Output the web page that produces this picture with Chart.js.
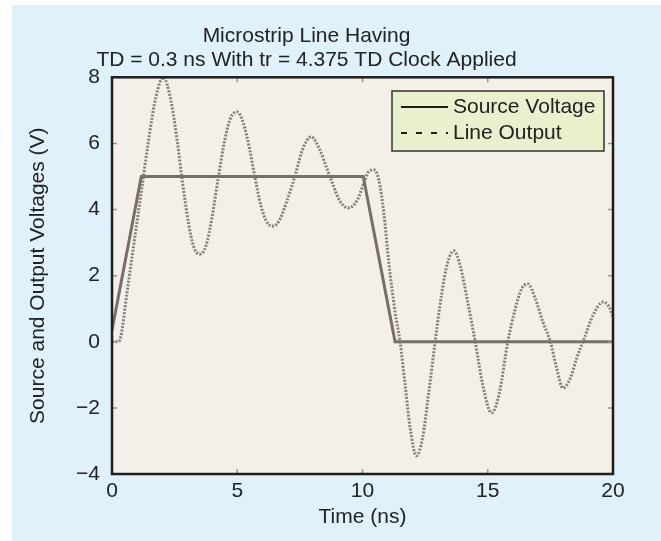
<!DOCTYPE html>
<html><head><meta charset="utf-8">
<script src="https://cdn.jsdelivr.net/npm/chart.js@4/dist/chart.umd.min.js"></script>
<style>html,body{margin:0;padding:0;background:#fff}#wrap{width:661px;height:541px}</style>
</head><body><div id="wrap"><canvas id="c" width="661" height="541"></canvas></div>
<script>
// ---- data ----
const titleLines = ['Microstrip Line Having', 'TD = 0.3 ns With tr = 4.375 TD Clock Applied'];
const xTitle = 'Time (ns)';
const yTitle = 'Source and Output Voltages (V)';
const seriesNames = ['Source Voltage', 'Line Output'];
const xTicks = [0, 5, 10, 15, 20];
const yTicks = [-4, -2, 0, 2, 4, 6, 8];

const sourceTime = [0, 1.17, 10.03, 11.3, 20];
const sourceVolt = [0.35, 5, 5, 0, 0];

const outputTime = [0, 0.25, 0.35, 0.6, 0.9, 1.2, 1.5, 1.75, 2.05, 2.35, 2.6, 2.8, 3.05, 3.25, 3.5, 3.75, 4.0, 4.25, 4.5, 4.75, 5.0,
  5.25, 5.5, 5.7, 5.95, 6.2, 6.45, 6.7, 7.0, 7.3, 7.6, 7.95, 8.3, 8.55, 8.8, 9.1, 9.45, 9.8, 10.1, 10.25, 10.45,
  10.65, 10.85, 11.05, 11.3, 11.5, 11.7, 11.9, 12.15, 12.4, 12.65, 12.9, 13.15, 13.4, 13.65, 13.9, 14.2, 14.5,
  14.8, 15.15, 15.45, 15.8, 16.1, 16.35, 16.6, 16.9, 17.2, 17.5, 17.75, 18.0, 18.3, 18.55, 18.85, 19.2, 19.6, 19.85, 20];
const outputVolt = [0, 0, 0.15, 1.5, 3.1, 4.7, 6.3, 7.4, 8.0, 7.3, 6.1, 4.9, 3.6, 2.9, 2.65, 2.9, 3.8, 5.0, 6.1, 6.8, 6.95,
  6.6, 5.8, 5.0, 4.1, 3.6, 3.5, 3.7, 4.3, 5.0, 5.8, 6.2, 5.8, 5.3, 4.8, 4.25, 4.05, 4.3, 4.9, 5.15, 5.2,
  4.9, 3.9, 2.4, 0.9, 0, -1.3, -2.6, -3.45, -2.9, -1.5, 0, 1.4, 2.4, 2.75, 2.3, 1.2, 0,
  -1.3, -2.15, -1.6, 0, 1.0, 1.6, 1.75, 1.3, 0.6, 0, -0.8, -1.4, -1.1, -0.5, 0.1, 0.8, 1.2, 1.05, 0.75];

// ---- styling ----
const FONT = 'Liberation Sans, Arial, Helvetica, sans-serif';
const TXT = '#222222';
const minusFix = v => String(v).replace('-', '\u2212');

const decor = {
  id: 'decor',
  beforeDraw(chart) {
    const ctx = chart.ctx, a = chart.chartArea;
    ctx.save();
    ctx.fillStyle = '#ffffff';
    ctx.fillRect(0, 0, chart.width, chart.height);
    ctx.fillStyle = '#dff1fa';
    ctx.fillRect(12, 5, chart.width - 12, chart.height - 5);
    ctx.fillStyle = '#f4efe7';
    ctx.fillRect(a.left, a.top, a.right - a.left, a.bottom - a.top);
    ctx.restore();
  },
  afterDatasetsDraw(chart) {
    const ctx = chart.ctx, a = chart.chartArea;
    const xs = chart.scales.x, ys = chart.scales.y;
    ctx.save();
    // small inward tick marks
    ctx.strokeStyle = '#9a9590';
    ctx.lineWidth = 1.5;
    xTicks.forEach(v => {
      const px = xs.getPixelForValue(v);
      ctx.beginPath(); ctx.moveTo(px, a.bottom); ctx.lineTo(px, a.bottom - 5);
      ctx.moveTo(px, a.top); ctx.lineTo(px, a.top + 5); ctx.stroke();
    });
    yTicks.forEach(v => {
      const py = ys.getPixelForValue(v);
      ctx.beginPath(); ctx.moveTo(a.left, py); ctx.lineTo(a.left + 5, py);
      ctx.moveTo(a.right, py); ctx.lineTo(a.right - 5, py); ctx.stroke();
    });
    // frame
    ctx.strokeStyle = '#1e1e1e';
    ctx.lineWidth = 2.5;
    ctx.strokeRect(a.left, a.top, a.right - a.left, a.bottom - a.top);
    // legend box
    const bx = 392, by = 91, bw = 212, bh = 60;
    ctx.fillStyle = '#e8f0cd';
    ctx.fillRect(bx, by, bw, bh);
    ctx.strokeStyle = '#333333';
    ctx.lineWidth = 1.5;
    ctx.strokeRect(bx, by, bw, bh);
    const rows = [by + 16, by + 42];
    ctx.strokeStyle = '#1e1e1e';
    ctx.lineWidth = 2;
    ctx.setLineDash([]);
    ctx.beginPath(); ctx.moveTo(401, rows[0]); ctx.lineTo(448, rows[0]); ctx.stroke();
    ctx.setLineDash([6, 9]);
    ctx.beginPath(); ctx.moveTo(401, rows[1]); ctx.lineTo(448, rows[1]); ctx.stroke();
    ctx.setLineDash([]);
    ctx.fillStyle = TXT;
    ctx.font = '21px ' + FONT;
    ctx.textBaseline = 'middle';
    ctx.textAlign = 'left';
    ctx.fillText(chart.data.datasets[0].label, 453, rows[0]);
    ctx.fillText(chart.data.datasets[1].label, 453, rows[1]);
    ctx.restore();
  }
};

new Chart(document.getElementById('c'), {
  type: 'line',
  data: {
    datasets: [
      {
        label: seriesNames[0],
        data: sourceTime.map((t, i) => ({x: t, y: sourceVolt[i]})),
        borderColor: '#776f6a',
        borderWidth: 3,
        pointRadius: 0,
        tension: 0
      },
      {
        label: seriesNames[1],
        data: outputTime.map((t, i) => ({x: t, y: outputVolt[i]})),
        borderColor: '#86807b',
        borderWidth: 3,
        borderDash: [2, 1.5],
        pointRadius: 0,
        cubicInterpolationMode: 'monotone'
      }
    ]
  },
  options: {
    responsive: false,
    animation: false,
    devicePixelRatio: 1,
    layout: {padding: {top: 5, left: 0, right: 48, bottom: 0}},
    plugins: {
      legend: {display: false},
      tooltip: {enabled: false},
      title: {
        display: true,
        text: titleLines,
        color: TXT,
        font: {family: FONT, size: 21, weight: 'normal', lineHeight: 1.15},
        padding: {top: 19, bottom: 5}
      }
    },
    scales: {
      x: {
        type: 'linear',
        min: 0, max: 20,
        afterBuildTicks: s => { s.ticks = xTicks.map(v => ({value: v})); },
        afterFit: s => { s.height = 67; },
        grid: {display: false},
        border: {display: false},
        ticks: {color: TXT, font: {family: FONT, size: 21}, padding: -3, maxRotation: 0, callback: minusFix},
        title: {display: true, text: xTitle, color: TXT, font: {family: FONT, size: 21, lineHeight: 1.2}, padding: {top: 0, bottom: 11.4}}
      },
      y: {
        type: 'linear',
        min: -4, max: 8,
        afterBuildTicks: s => { s.ticks = yTicks.map(v => ({value: v})); },
        afterFit: s => { s.width = 112; },
        grid: {display: false},
        border: {display: false},
        ticks: {color: TXT, font: {family: FONT, size: 21}, padding: 4, callback: minusFix},
        title: {display: true, text: yTitle, color: TXT, font: {family: FONT, size: 21, lineHeight: 1.2}, padding: {top: 26, bottom: 0}}
      }
    }
  },
  plugins: [decor]
});
</script>
</body></html>
